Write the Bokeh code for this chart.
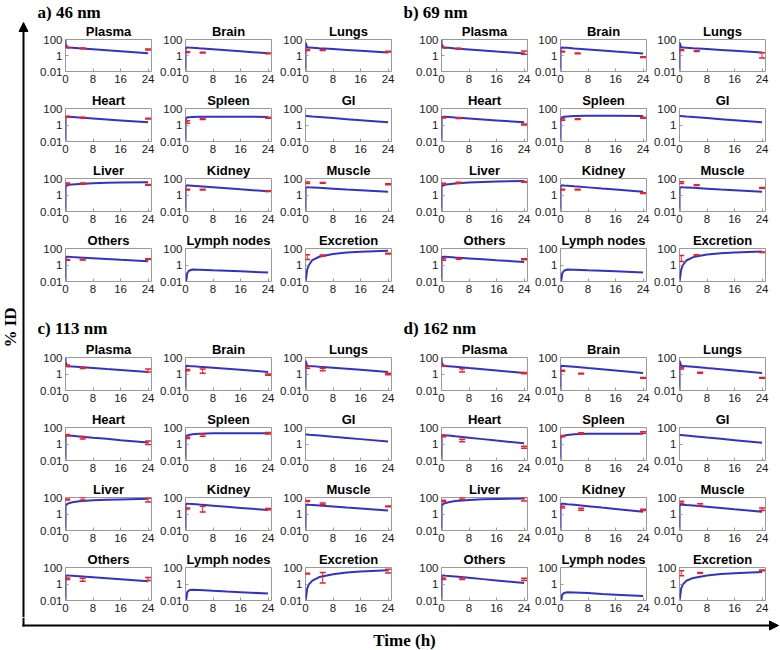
import math
from bokeh.plotting import figure
from bokeh.layouts import row, column
from bokeh.models import FixedTicker, Range1d, Label, Arrow, NormalHead, Spacer
from bokeh.embed import file_html
from bokeh.resources import INLINE

ORGANS = ["Plasma", "Brain", "Lungs", "Heart", "Spleen", "GI",
          "Liver", "Kidney", "Muscle", "Others", "Lymph nodes", "Excretion"]
T_MODEL = [0, 0.02, 0.5, 1, 2, 4, 8, 12, 16, 24]
T_DATA_ABC = [0.5, 5, 24]
T_DATA_D = [0.5, 6, 24]
X_TICKS = [0, 8, 16, 24]
Y_TICKS = [0.01, 1, 100]
Y_TICK_LABELS = ["0.01", "1", "100"]
PANEL_LABELS = ["a) 46 nm", "b) 69 nm", "c) 113 nm", "d) 162 nm"]

# ---------------- 46 nm ----------------
MODEL_46 = {
    "Plasma": [100, 30, 10, 9.65, 9.0, 7.8, 5.9, 4.4, 3.3, 1.9],
    "Brain": [0.001, 8, 10, 9.65, 9.0, 7.8, 5.9, 4.4, 3.3, 1.9],
    "Lungs": [0.001, 40, 10, 9.7, 9.1, 8.0, 6.3, 4.9, 3.8, 2.3],
    "Heart": [0.001, 9, 10, 9.7, 9.05, 7.9, 6.1, 4.7, 3.6, 2.1],
    "Spleen": [0.001, 5, 8.5, 9, 9.5, 10, 10, 10, 10, 9.5],
    "GI": [12, 12, 12, 11.6, 10.7, 9.3, 6.9, 5.1, 3.8, 2.1],
    "Liver": [0.001, 10, 15, 17, 19, 22, 27, 30, 32, 35],
    "Kidney": [0.001, 12, 15, 14.5, 13.5, 11.7, 8.8, 6.6, 4.9, 2.8],
    "Muscle": [0.001, 7, 9, 8.75, 8.3, 7.4, 5.9, 4.7, 3.8, 2.4],
    "Others": [0.001, 8, 10, 9.7, 9.2, 8.3, 6.7, 5.4, 4.3, 2.8],
    "Lymph nodes": [0.001, 0.003, 0.1, 0.2, 0.28, 0.27, 0.23, 0.2, 0.17, 0.12],
    "Excretion": [0.001, 0.01, 0.3, 1.0, 4, 10, 22, 32, 40, 52],
}
LO_46 = {
    "Plasma": [9, 7, 5], "Brain": [2.4, 2.0, 1.7], "Lungs": [4.2, 4.2, 2.7],
    "Heart": [9, 6.8, 5.2], "Spleen": [1.6, 4.6, 6.8], "GI": [],
    "Liver": [22, 22, 15], "Kidney": [4, 4, 2.7], "Muscle": [25, 27, 17],
    "Others": [3.8, 3.9, 4.5], "Lymph nodes": [], "Excretion": [4.6, 12, 21],
}
HI_46 = {
    "Plasma": [11, 8.5, 6.5], "Brain": [3.0, 2.6, 2.1], "Lungs": [5.5, 5.3, 3.4],
    "Heart": [11.5, 8.5, 6.5], "Spleen": [3.3, 6, 8.5], "GI": [],
    "Liver": [29, 28, 19], "Kidney": [5, 5, 3.3], "Muscle": [38, 33, 23],
    "Others": [4.8, 4.8, 5.6], "Lymph nodes": [], "Excretion": [18, 16, 27],
}

# ---------------- 69 nm ----------------
MODEL_69 = {
    "Plasma": [100, 30, 10, 9.6, 9.0, 7.7, 5.8, 4.3, 3.2, 1.8],
    "Brain": [0.001, 8, 10, 9.6, 9.0, 7.7, 5.8, 4.3, 3.2, 1.8],
    "Lungs": [0.001, 40, 10, 9.7, 9.1, 8.0, 6.3, 4.9, 3.8, 2.3],
    "Heart": [0.001, 9, 10, 9.7, 9.05, 7.9, 6.1, 4.7, 3.6, 2.1],
    "Spleen": [0.001, 5, 9, 10, 11, 12, 13, 13, 13, 12],
    "GI": [12, 12, 12, 11.6, 10.7, 9.3, 6.9, 5.1, 3.8, 2.1],
    "Liver": [0.001, 10, 15, 17, 20, 25, 32, 38, 42, 50],
    "Kidney": [0.001, 12, 15, 14.4, 13.4, 11.4, 8.4, 6.1, 4.5, 2.4],
    "Muscle": [0.001, 7, 9, 8.75, 8.3, 7.4, 5.9, 4.7, 3.8, 2.4],
    "Others": [0.001, 8, 10, 9.7, 9.1, 8.0, 6.3, 4.9, 3.8, 2.3],
    "Lymph nodes": [0.001, 0.003, 0.1, 0.2, 0.28, 0.27, 0.23, 0.2, 0.17, 0.12],
    "Excretion": [0.001, 0.01, 0.3, 1.0, 3.5, 9, 19, 27, 33, 42],
}
LO_69 = {
    "Plasma": [9, 6.3, 1.4], "Brain": [2.7, 1.6, 0.58], "Lungs": [4.3, 3.2, 0.5],
    "Heart": [7.2, 6.2, 1.0], "Spleen": [3.8, 4.8, 6.8], "GI": [],
    "Liver": [20, 27, 34], "Kidney": [4, 4, 1.5], "Muscle": [24, 14.5, 6.6],
    "Others": [3.8, 5, 4.4], "Lymph nodes": [], "Excretion": [2.7, 14, 32],
}
HI_69 = {
    "Plasma": [11, 7.8, 3.6], "Brain": [3.4, 2.0, 0.72], "Lungs": [5.4, 4.0, 2.2],
    "Heart": [8.9, 7.6, 1.35], "Spleen": [5.8, 5.8, 8.4], "GI": [],
    "Liver": [27, 36, 43], "Kidney": [5, 5, 1.9], "Muscle": [40, 18, 8],
    "Others": [6, 6, 5.6], "Lymph nodes": [], "Excretion": [14, 18, 38],
}

# ---------------- 113 nm ----------------
MODEL_113 = {
    "Plasma": [100, 30, 8.7, 8.4, 7.9, 6.9, 5.3, 4.0, 3.1, 1.8],
    "Brain": [0.001, 8, 10, 9.6, 9.0, 7.7, 5.8, 4.3, 3.2, 1.8],
    "Lungs": [0.001, 40, 10, 9.6, 9.0, 7.7, 5.8, 4.3, 3.2, 1.8],
    "Heart": [0.001, 10, 11, 10.5, 9.7, 8.2, 5.8, 4.2, 2.9, 1.5],
    "Spleen": [0.001, 8, 11, 12.5, 15, 18, 20, 20, 20, 20],
    "GI": [14, 14, 14, 13.4, 12.4, 10.5, 7.5, 5.4, 3.9, 2.0],
    "Liver": [0.001, 10, 17, 20, 26, 35, 45, 52, 58, 70],
    "Kidney": [0.001, 14, 18, 17.3, 16.1, 13.8, 10.2, 7.5, 5.5, 3.0],
    "Muscle": [0.001, 11, 14, 13.5, 12.6, 10.9, 8.2, 6.1, 4.6, 2.6],
    "Others": [0.001, 9, 11, 10.6, 9.9, 8.6, 6.5, 4.9, 3.7, 2.1],
    "Lymph nodes": [0.001, 0.003, 0.1, 0.17, 0.2, 0.19, 0.15, 0.12, 0.1, 0.07],
    "Excretion": [0.001, 0.01, 0.3, 0.9, 2.6, 7, 15, 24, 32, 46],
}
LO_113 = {
    "Plasma": [8, 4.8, 1.7], "Brain": [2.5, 1.2, 0.7], "Lungs": [5, 2.4, 0.8],
    "Heart": [10, 4, 0.9], "Spleen": [4.5, 9, 16], "GI": [],
    "Liver": [50, 50, 28], "Kidney": [4, 1.7, 3.2], "Muscle": [32, 14, 7.5],
    "Others": [3.5, 2.2, 2.7], "Lymph nodes": [], "Excretion": [16, 1.3, 22],
}
HI_113 = {
    "Plasma": [12, 6.5, 4], "Brain": [3.6, 4.0, 1.0], "Lungs": [8.5, 5, 1.2],
    "Heart": [14, 8, 2.3], "Spleen": [6.5, 16, 24], "GI": [],
    "Liver": [65, 100, 80], "Kidney": [5.5, 9, 4.5], "Muscle": [42, 22, 9.5],
    "Others": [5.3, 5, 6], "Lymph nodes": [], "Excretion": [20, 25, 60],
}

# ---------------- 162 nm ----------------
MODEL_162 = {
    "Plasma": [100, 30, 10, 9.6, 8.8, 7.4, 5.2, 3.7, 2.6, 1.3],
    "Brain": [0.001, 8, 10, 9.6, 8.8, 7.4, 5.2, 3.7, 2.6, 1.3],
    "Lungs": [0.001, 40, 10, 9.6, 8.8, 7.4, 5.2, 3.7, 2.6, 1.3],
    "Heart": [0.001, 10, 12, 11.4, 10.4, 8.5, 5.8, 3.9, 2.6, 1.2],
    "Spleen": [0.001, 6, 9, 10, 12, 15, 17, 17, 17, 17],
    "GI": [12, 12, 12, 11.5, 10.5, 8.7, 6.0, 4.2, 2.9, 1.4],
    "Liver": [0.001, 10, 17, 20, 27, 37, 50, 60, 66, 75],
    "Kidney": [0.001, 14, 18, 17.2, 15.6, 12.9, 8.8, 6.0, 4.1, 1.9],
    "Muscle": [0.001, 11, 14, 13.4, 12.3, 10.4, 7.4, 5.3, 3.7, 1.9],
    "Others": [0.001, 9, 11, 10.5, 9.6, 8.0, 5.6, 3.9, 2.7, 1.3],
    "Lymph nodes": [0.001, 0.003, 0.05, 0.08, 0.1, 0.095, 0.08, 0.06, 0.05, 0.035],
    "Excretion": [0.001, 0.01, 0.3, 0.9, 2.5, 5.5, 11, 16, 20, 28],
}
LO_162 = {
    "Plasma": [9, 1.7, 1.1], "Brain": [2.2, 1.0, 0.3], "Lungs": [4, 1.2, 0.3],
    "Heart": [7.5, 1.9, 0.3], "Spleen": [7.5, 17, 20], "GI": [],
    "Liver": [30, 60, 38], "Kidney": [5.5, 2.8, 2.6], "Muscle": [20, 11, 2.6],
    "Others": [3.5, 3.5, 2.6], "Lymph nodes": [], "Excretion": [10, 20, 40],
}
HI_162 = {
    "Plasma": [11, 4.2, 1.5], "Brain": [2.8, 1.25, 0.38], "Lungs": [6, 1.6, 0.38],
    "Heart": [10.5, 3.8, 0.52], "Spleen": [10.5, 23, 30], "GI": [],
    "Liver": [45, 100, 100], "Kidney": [8.5, 5, 3.8], "Muscle": [36, 17, 5.5],
    "Others": [5.3, 5.3, 5], "Lymph nodes": [], "Excretion": [40, 25, 50],
}

BLUE = "#3232c8"
RED = "#f01e28"
FRAME = "#9a9a9a"
SANS = "Liberation Sans"
SERIF = "Liberation Serif"


def subplot(name, model, lo, hi, tdata, width, right, top, height):
    p = figure(width=width, height=height, x_range=Range1d(0, 25),
               y_range=Range1d(0.01, 100), y_axis_type="log",
               output_backend="svg", toolbar_location=None,
               min_border_left=26, min_border_right=right,
               min_border_top=top, min_border_bottom=17, title=name)
    p.title.align = "center"
    p.title.text_font = SANS
    p.title.text_font_size = "13px"
    p.title.text_font_style = "bold"
    p.title.text_color = "black"
    p.title.standoff = 1
    p.xaxis.ticker = FixedTicker(ticks=X_TICKS)
    p.yaxis.ticker = FixedTicker(ticks=Y_TICKS)
    p.yaxis.major_label_overrides = dict(zip(Y_TICKS, Y_TICK_LABELS))
    for ax in (p.xaxis, p.yaxis):
        ax.minor_tick_line_color = None
        ax.major_tick_in = 3
        ax.major_tick_out = 0
        ax.major_tick_line_color = FRAME
        ax.axis_line_color = None
        ax.major_label_standoff = 3
        ax.major_label_text_font = SANS
        ax.major_label_text_font_size = "11.5px"
        ax.major_label_text_color = "#1a1a1a"
    p.grid.visible = False
    p.outline_line_color = FRAME
    p.outline_line_width = 1
    p.outline_line_alpha = 1
    p.line(T_MODEL, model, line_color=BLUE, line_width=2)
    if lo:
        p.segment(x0=tdata, y0=lo, x1=tdata, y1=hi, line_color=RED, line_width=1)
        p.scatter(tdata, lo, marker="dash", size=6, line_color=RED, line_width=1.5)
        p.scatter(tdata, hi, marker="dash", size=6, line_color=RED, line_width=1.5)
    return p


def deco(width, height):
    p = figure(width=width, height=height, x_range=Range1d(0, width),
               y_range=Range1d(0, height), output_backend="svg",
               toolbar_location=None, min_border=0, title=None,
               x_axis_location=None, y_axis_location=None)
    p.grid.visible = False
    p.outline_line_color = None
    return p


def label(p, x, y, text, **kw):
    kw.setdefault("text_baseline", "alphabetic")
    p.add_layout(Label(x=x, y=y, text=text, text_font=SERIF, text_font_style="bold",
                       text_font_size="17px", text_color="black", **kw))


panels = [(MODEL_46, LO_46, HI_46, T_DATA_ABC),
          (MODEL_69, LO_69, HI_69, T_DATA_ABC),
          (MODEL_113, LO_113, HI_113, T_DATA_ABC),
          (MODEL_162, LO_162, HI_162, T_DATA_D)]


def grid_rows(left_panel, right_panel, first_top, first_h):
    rows = []
    for r in range(4):
        top = first_top if r == 0 else 20
        h = first_h if r == 0 else 70
        figs = []
        for c in range(3):
            name = ORGANS[r * 3 + c]
            m, lo, hi, td = left_panel
            figs.append(subplot(name, m[name], lo[name], hi[name], td, 120, 6, top, h))
        figs.append(Spacer(width=16, height=h))
        for c in range(3):
            name = ORGANS[r * 3 + c]
            m, lo, hi, td = right_panel
            figs.append(subplot(name, m[name], lo[name], hi[name], td, 119, 5, top, h))
        rows.append(row(*figs))
    return rows


header_ab = deco(733, 21)
label(header_ab, 0, 9, PANEL_LABELS[0])
label(header_ab, 366, 9, PANEL_LABELS[1])

header_cd = deco(733, 39)
label(header_cd, 0, 9, PANEL_LABELS[2])
label(header_cd, 366, 9, PANEL_LABELS[3])

main = column(header_ab, *grid_rows(panels[0], panels[1], 17, 67),
              header_cd, *grid_rows(panels[2], panels[3], 20, 70))

left = deco(37, 617)
left.add_layout(Arrow(end=NormalHead(size=9, fill_color="black", line_color="black"),
                      x_start=23, y_start=0, x_end=23, y_end=595,
                      line_width=2, line_color="black"))
label(left, 10, 290, "% ID", angle=math.pi / 2, text_align="center", text_baseline="middle")

bottom = deco(780, 33)
bottom.add_layout(Arrow(end=None, x_start=23, y_start=33, x_end=23, y_end=24,
                        line_width=2, line_color="black"))
bottom.add_layout(Arrow(end=NormalHead(size=9, fill_color="black", line_color="black"),
                        x_start=22, y_start=25, x_end=778, y_end=25,
                        line_width=2, line_color="black"))
label(bottom, 404, 10, "Time (h)", text_align="center")

layout = column(row(left, main), bottom)

open("out.html", "w").write(file_html(layout, INLINE))
